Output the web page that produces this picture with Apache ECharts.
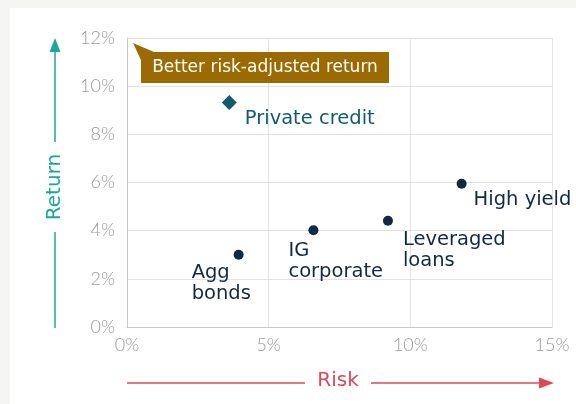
<!DOCTYPE html>
<html>
<head>
    <meta charset="utf-8">
    <title>Risk vs Return</title>
    <script src="https://cdn.jsdelivr.net/npm/echarts@6/dist/echarts.min.js"></script>
    <style>
        html, body { margin: 0; padding: 0; background: #f5f5f3; }
        #chart { width: 576px; height: 404px; }
    </style>
</head>
<body>
    <div id="chart"></div>
    <script type="text/javascript">
        // asset classes: risk (x, %) and return (y, %)
        var assetNames = ['Agg\nbonds', 'IG\ncorporate', 'Leveraged\nloans', 'High yield'];
        var assetRisk = [3.94, 6.58, 9.21, 11.81];
        var assetReturn = [3.0, 4.02, 4.41, 5.95];

        var privateName = 'Private credit';
        var privateRisk = [3.61];
        var privateReturn = [9.32];

        var xTicks = [0, 5, 10, 15];
        var yTicks = [0, 2, 4, 6, 8, 10, 12];

        var navy = '#0f2a42';
        var teal = '#1aa89a';
        var red = '#e0475c';
        var labelFont = 'DejaVu Sans';

        // label placement per point (offset from the marker)
        var labelOffsets = [[-47, -2], [-25, 0], [15, -1], [12, -4]];

        var assetData = assetNames.map(function (n, i) {
            return {
                name: n,
                value: [assetRisk[i], assetReturn[i]],
                label: {
                    show: true,
                    formatter: n,
                    position: 'bottom',
                    align: 'left',
                    offset: labelOffsets[i]
                }
            };
        });

        var myChart = echarts.init(document.getElementById('chart'), null, { renderer: 'canvas' });

        var axisLabelStyle = {
            color: '#9a9a9a',
            fontFamily: 'Lato',
            fontWeight: 300,
            fontSize: 18,
            formatter: '{value}%'
        };

        var option = {
            animation: false,
            backgroundColor: '#f5f5f3',
            grid: { left: 127, right: 24, top: 38, bottom: 77 },
            xAxis: {
                type: 'value',
                min: xTicks[0],
                max: xTicks[xTicks.length - 1],
                interval: 5,
                axisLine: { show: true, lineStyle: { color: '#c8c8c8' } },
                axisTick: { show: false },
                splitLine: { show: true, lineStyle: { color: '#e3e3e3' } },
                axisLabel: Object.assign({ margin: 9 }, axisLabelStyle)
            },
            yAxis: {
                type: 'value',
                min: yTicks[0],
                max: yTicks[yTicks.length - 1],
                interval: 2,
                axisLine: { show: true, lineStyle: { color: '#c8c8c8' } },
                axisTick: { show: false },
                splitLine: { show: true, lineStyle: { color: '#e3e3e3' } },
                axisLabel: Object.assign({ margin: 12 }, axisLabelStyle)
            },
            graphic: [
                // white card
                { type: 'rect', z: -10, shape: { x: 10, y: 8, width: 566, height: 396 }, style: { fill: '#ffffff' } },
                // Return arrow (vertical)
                { type: 'line', shape: { x1: 55, y1: 328, x2: 55, y2: 232 }, style: { stroke: teal, lineWidth: 1.5 } },
                { type: 'line', shape: { x1: 55, y1: 142, x2: 55, y2: 46 }, style: { stroke: teal, lineWidth: 1.5 } },
                { type: 'polygon', shape: { points: [[55, 38], [49.5, 52], [60.5, 52]] }, style: { fill: teal } },
                {
                    type: 'text', x: 55, y: 187, rotation: Math.PI / 2,
                    style: { text: 'Return', fill: teal, fontSize: 20, fontFamily: labelFont, align: 'center', verticalAlign: 'middle' }
                },
                // Risk arrow (horizontal)
                { type: 'line', shape: { x1: 127, y1: 383, x2: 305, y2: 383 }, style: { stroke: red, lineWidth: 1.5 } },
                { type: 'line', shape: { x1: 371, y1: 383, x2: 540, y2: 383 }, style: { stroke: red, lineWidth: 1.5 } },
                { type: 'polygon', shape: { points: [[554, 383], [539, 377.5], [539, 388.5]] }, style: { fill: red } },
                {
                    type: 'text', x: 338, y: 381,
                    style: { text: 'Risk', fill: red, fontSize: 20, fontFamily: labelFont, align: 'center', verticalAlign: 'middle' }
                },
                // annotation box
                { type: 'polygon', z: 100, shape: { points: [[133, 43], [141, 60], [154, 52]] }, style: { fill: '#9b6a00' } },
                { type: 'rect', z: 100, shape: { x: 141, y: 52, width: 248, height: 31 }, style: { fill: '#9b6a00' } },
                {
                    type: 'text', z: 101, x: 265, y: 68,
                    style: { text: 'Better risk-adjusted return', fill: '#ffffff', fontSize: 17, fontFamily: labelFont, align: 'center', verticalAlign: 'middle' }
                }
            ],
            series: [
                {
                    type: 'scatter',
                    symbol: 'circle',
                    symbolSize: 10,
                    itemStyle: { color: navy, opacity: 1 },
                    label: {
                        color: navy,
                        fontSize: 19.5,
                        fontFamily: labelFont,
                        lineHeight: 21
                    },
                    data: assetData
                },
                {
                    type: 'scatter',
                    symbol: 'diamond',
                    symbolSize: 15,
                    itemStyle: { color: '#0f5c70', opacity: 1 },
                    label: {
                        show: true,
                        formatter: privateName,
                        color: '#0f5c70',
                        fontSize: 19.5,
                        fontFamily: labelFont,
                        position: 'right',
                        offset: [3, 16]
                    },
                    data: privateRisk.map(function (r, i) { return [r, privateReturn[i]]; })
                }
            ]
        };

        myChart.setOption(option);
    </script>
</body>
</html>
